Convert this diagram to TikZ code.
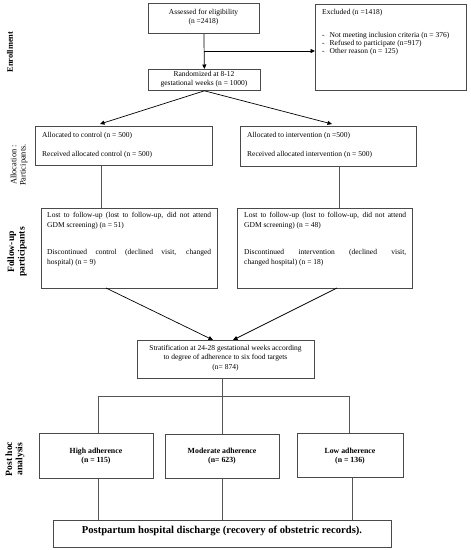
\documentclass[tikz,border=0pt]{standalone}
\usepackage{fontspec}
\setmainfont{Liberation Serif}
\usetikzlibrary{arrows.meta}
\definecolor{boxgray}{HTML}{4A4A4A}
\definecolor{linegray}{HTML}{555555}
\begin{document}
\begin{tikzpicture}[x=1pt,y=-1pt,
  box/.style={draw=boxgray, line width=0.8pt, inner sep=0pt, anchor=north west},
  txt/.style={font=\fontsize{7.5}{8.8}\selectfont, inner sep=0pt},
  btxt/.style={font=\fontsize{7.8}{9.4}\selectfont\bfseries, inner sep=0pt, align=center},
  conn/.style={draw=linegray, line width=0.8pt},
  arr/.style={draw=black, line width=0.7pt, -{Triangle[length=4.5pt,width=4pt]}},
  side/.style={rotate=90, align=center, inner sep=0pt}
]
\useasboundingbox[fill=white] (0,0) rectangle (471,550);

% boxes
\node[box, minimum width=111pt, minimum height=30pt] (assess) at (148,3) {};
\node[box, minimum width=151pt, minimum height=86pt] (excl) at (315,4) {};
\node[box, minimum width=112pt, minimum height=21pt] (rand) at (148,69) {};
\node[box, minimum width=177pt, minimum height=39pt] (allocC) at (35,126) {};
\node[box, minimum width=176pt, minimum height=40pt] (allocI) at (240,126) {};
\node[box, minimum width=176pt, minimum height=80pt] (lostC) at (41,208) {};
\node[box, minimum width=175pt, minimum height=80pt] (lostI) at (237,208) {};
\node[box, minimum width=177pt, minimum height=38pt] (strat) at (137,340) {};
\node[box, minimum width=114pt, minimum height=45pt] (high) at (39,433) {};
\node[box, minimum width=114pt, minimum height=44pt] (mod) at (165,434) {};
\node[box, minimum width=106pt, minimum height=44pt] (low) at (297,433) {};
\node[box, minimum width=338pt, minimum height=27pt] (post) at (53,520) {};

% texts
\node[txt, align=center] (assess-t) at (203.5,17.5) {Assessed for eligibility\\(n =2418)};
\node[txt, align=left, anchor=north west, font=\fontsize{7.5}{7.7}\selectfont] (excl-t) at (322,9.5)
  {Excluded (n =1418)\\[15pt]
   -\hspace{5pt}Not meeting inclusion criteria (n = 376)\\
   -\hspace{5pt}Refused to participate (n=917)\\
   -\hspace{5pt}Other reason (n = 125)};
\node[txt, align=center] (rand-t) at (204,79.5) {Randomized at 8-12\\gestational weeks (n = 1000)};
\node[txt, align=left, anchor=west] (allocC-t) at (42,145) {Allocated to control (n = 500)\\[10.2pt]Received allocated control (n = 500)};
\node[txt, align=left, anchor=west] (allocI-t) at (247,145) {Allocated to intervention (n =500)\\[10.2pt]Received allocated intervention (n = 500)};
\node[txt, align=justify, text width=164pt, anchor=north west, font=\fontsize{7.5}{10}\selectfont] (lostC-t) at (47,212.5)
  {Lost to follow-up (lost to follow-up, did not attend\linebreak GDM screening) (n = 51)\\[17pt]
   Discontinued control (declined visit, changed\linebreak hospital) (n = 9)};
\node[txt, align=justify, text width=162pt, anchor=north west, font=\fontsize{7.5}{10}\selectfont] (lostI-t) at (244,212.5)
  {Lost to follow-up (lost to follow-up, did not attend\linebreak GDM screening) (n = 48)\\[17pt]
   Discontinued intervention (declined visit,\linebreak changed hospital) (n = 18)};
\node[txt, align=center, font=\fontsize{7.5}{9}\selectfont] (strat-t) at (225.5,358.5)
  {Stratification at 24-28 gestational weeks according\\to degree of adherence to six food targets\\[1pt](n= 874)};
\node[btxt] (high-t) at (96,456) {High adherence\\(n = 115)};
\node[btxt] (mod-t) at (222,456) {Moderate adherence\\(n= 623)};
\node[btxt] (low-t) at (350,456) {Low adherence\\(n = 136)};
\node[inner sep=0pt, font=\fontsize{10.6}{12}\selectfont\bfseries] (post-t) at (222,531) {Postpartum hospital discharge (recovery of obstetric records).};

% side labels
\node[side, font=\fontsize{8.4}{9}\selectfont\bfseries] (lab-enr) at (10,52) {Enrollment};
\node[side, font=\fontsize{8.4}{9.4}\selectfont] (lab-alloc) at (19,165) {Allocation :\\Participants.};
\node[side, font=\fontsize{9.6}{10.6}\selectfont\bfseries] (lab-fu) at (17,252) {Follow-up\\participants};
\node[side, font=\fontsize{9.6}{10.2}\selectfont\bfseries] (lab-ph) at (15,459) {Post hoc\\analysis};

% connectors
\coordinate (br) at (203.5,51);
\coordinate (aC) at (100,124);
\coordinate (aI) at (332,124);
\coordinate (xC) at (101,0);
\coordinate (xI) at (339,0);
\coordinate (sC) at (106,288);
\coordinate (sI) at (337,288);
\coordinate (eC) at (213,340);
\coordinate (eI) at (233,340);
\coordinate (sm) at (222,0);
\coordinate (hb) at (0,396);
\coordinate (xh) at (98,0);
\coordinate (xl) at (349,0);
\coordinate (xl2) at (352,0);

\draw[arr] (assess.south) -- (rand.north);
\draw[arr] (br) -- (br -| excl.west);
\draw[arr] (rand.south) -- (aC);
\draw[arr] (rand.south) -- (aI);
\draw[conn] (allocC.south -| xC) -- (lostC.north -| xC);
\draw[conn] (allocI.south -| xI) -- (lostI.north -| xI);
\draw[arr] (sC) -- (eC);
\draw[arr] (sI) -- (eI);
\draw[conn] (strat.south -| sm) -- (hb -| sm);
\draw[conn] (hb -| xh) -- (hb -| xl);
\draw[conn] (hb -| xh) -- (high.north -| xh);
\draw[conn] (hb -| sm) -- (mod.north -| sm);
\draw[conn] (hb -| xl) -- (low.north -| xl);
\draw[conn] (high.south -| xh) -- (post.north -| xh);
\draw[conn] (mod.south -| sm) -- (post.north -| sm);
\draw[conn] (low.south -| xl2) -- (post.north -| xl2);
\end{tikzpicture}
\end{document}
